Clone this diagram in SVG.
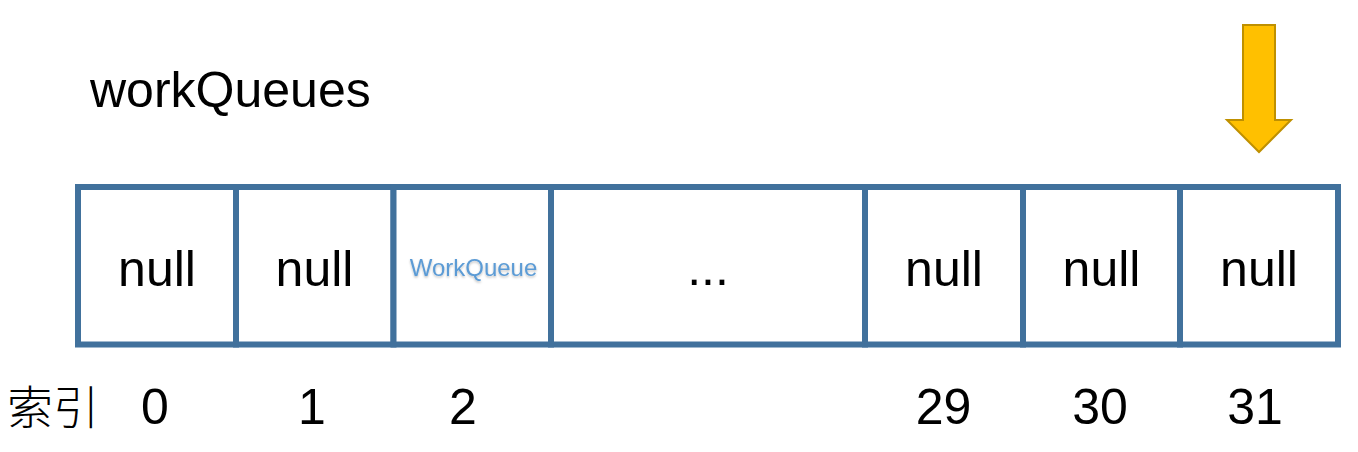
<svg xmlns="http://www.w3.org/2000/svg" width="1358" height="452" viewBox="0 0 1358 452">
  <style>
    .cell { fill: #ffffff; stroke: #41719C; stroke-width: 6; }
    .t { font-family: "Liberation Sans", Arial, "Noto Sans CJK SC", sans-serif; fill: #000000; text-anchor: middle; }
    .null { font-size: 50px; }
    .idx { font-size: 50px; }
    .wq { font-size: 24px; fill: #5B9BD5; filter: url(#shadow); }
  </style>
  <defs>
    <filter id="shadow" x="-10%" y="-30%" width="120%" height="160%">
      <feDropShadow dx="0" dy="1.5" stdDeviation="1.2" flood-color="#000000" flood-opacity="0.25"/>
    </filter>
  </defs>
  <rect width="1358" height="452" fill="#ffffff"/>

  <text class="t" x="90" y="107" font-size="50" style="text-anchor:start">workQueues</text>

  <g id="arrow">
    <polygon points="1243,25 1275,25 1275,120 1291,120 1259,152 1227,120 1243,120" fill="#FFC000" stroke="#BF9000" stroke-width="2" stroke-linejoin="miter"/>
  </g>

  <g id="array">
    <g id="cell0"><rect class="cell" x="78" y="187" width="158" height="157.5"/><text class="t null" x="157" y="286">null</text></g>
    <g id="cell1"><rect class="cell" x="236" y="187" width="157.5" height="157.5"/><text class="t null" x="314.5" y="286">null</text></g>
    <g id="cell2"><rect class="cell" x="393.5" y="187" width="157.5" height="157.5"/><text class="t wq" x="473.5" y="276">WorkQueue</text></g>
    <g id="cellDots"><rect class="cell" x="551" y="187" width="314" height="157.5"/><text class="t null" x="708" y="285">...</text></g>
    <g id="cell29"><rect class="cell" x="865" y="187" width="158" height="157.5"/><text class="t null" x="944" y="286">null</text></g>
    <g id="cell30"><rect class="cell" x="1023" y="187" width="157" height="157.5"/><text class="t null" x="1101.5" y="286">null</text></g>
    <g id="cell31"><rect class="cell" x="1180" y="187" width="158" height="157.5"/><text class="t null" x="1259" y="286">null</text></g>
  </g>

  <g id="index">
    <text class="t" x="7" y="424" font-size="46" style="text-anchor:start; font-family:'Noto Sans CJK SC', sans-serif; font-weight:300">索引</text>
    <text class="t idx" x="155" y="424">0</text>
    <text class="t idx" x="312" y="424">1</text>
    <text class="t idx" x="463" y="424">2</text>
    <text class="t idx" x="943.5" y="424">29</text>
    <text class="t idx" x="1100" y="424">30</text>
    <text class="t idx" x="1255" y="424">31</text>
  </g>
  <g id="connectors"/>
</svg>
